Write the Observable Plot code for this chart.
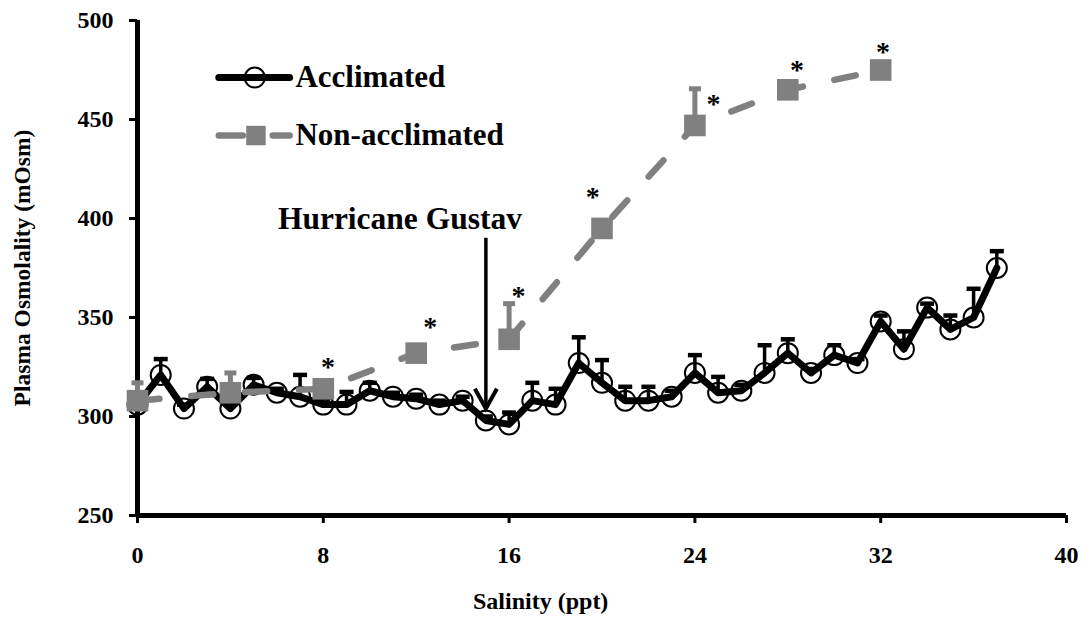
<!DOCTYPE html>
<html><head><meta charset="utf-8">
<script src="https://cdn.jsdelivr.net/npm/d3@7"></script>
<script src="https://cdn.jsdelivr.net/npm/@observablehq/plot@0.6"></script>
<style>html,body{margin:0;padding:0;background:#fff;overflow:hidden}</style>
</head><body><div id="chart"></div>
<script>
// ---- data ----
const acclX    = [0,1,2,3,4,5,6,7,8,9,10,11,12,13,14,15,16,17,18,19,20,21,22,23,24,25,26,27,28,29,30,31,32,33,34,35,36,37];
const acclMean = [306,321,304,315,304,316,312,310,306,306,313,310,309,306,308,298,296,308,306,327,317,308,308,310,322,312,313,322,332,322,331,327,348,334,355,344,350,375];
const acclErr  = [2,8,2,4,2,3.5,2,11,3,6.4,4,2,2,2,2,2,6,9,8,13,11.5,7,7,3,9,8,3,14,7,2,5,2,3,9,2,7,14.5,8.5];

const nonX    = [0,4,8,12,16,20,24,28,32];
const nonMean = [308,312,314,332,339,395,447,465,475];
const nonErr  = [9,10,4,3,18,3,18.5,0,0];

const starX = [8.2,12.6,16.4,19.6,24.8,28.4,32.1];
const starY = [325,345,361,411,458,475,484];

const xTicks = [0,8,16,24,32,40];
const yTicks = [250,300,350,400,450,500];

const seriesNames = ["Acclimated","Non-acclimated"];
const annotationText = "Hurricane Gustav";
const arrowAt = {x: 15, from: 390, to: 304};
const annotationPos = {x: 11.3, y: 400};
const legendPos = {x0: 3.5, x1: 6.55, xm: 5.05, xt: 6.8, y: [471.2, 441.9]};

const accl = acclX.map((x,i)=>({x, y: acclMean[i], top: acclMean[i]+acclErr[i]}));
const non  = nonX.map((x,i)=>({x, y: nonMean[i], top: nonMean[i]+nonErr[i]}));
const stars = starX.map((x,i)=>({x, y: starY[i]}));

const cap = {draw(ctx, size){ const r = Math.sqrt(size/Math.PI); ctx.moveTo(-r,0); ctx.lineTo(r,0); }};
const vHead = {draw(ctx, size){ const r = Math.sqrt(size/Math.PI); ctx.moveTo(-r,-1.8*r); ctx.lineTo(0,0); ctx.lineTo(r,-1.8*r); }};

const GRAY = "#808080";
const FONT = "Liberation Serif, Times New Roman, serif";

const plot = Plot.plot({
  width: 1089, height: 634,
  marginTop: 20, marginRight: 23, marginBottom: 119, marginLeft: 137,
  style: {fontFamily: FONT, fontWeight: "bold", color: "#000", background: "#fff"},
  x: {domain: [0,40]},
  y: {domain: [250,500]},
  marks: [
    Plot.axisX({ticks: xTicks, tickSize: 8, tickPadding: 22, fontSize: 24, fontWeight: "bold", label: null, strokeWidth: 3}),
    Plot.axisY({ticks: yTicks, tickSize: 8, tickPadding: 16, fontSize: 24, fontWeight: "bold", label: null, strokeWidth: 3}),
    Plot.ruleY([250], {stroke: "#000", strokeWidth: 5}),
    Plot.ruleX([0], {stroke: "#000", strokeWidth: 5}),
    // acclimated
    Plot.ruleX(accl, {x: "x", y1: "y", y2: "top", stroke: "#000", strokeWidth: 3.5}),
    Plot.dot(accl, {x: "x", y: "top", symbol: cap, r: 7, stroke: "#000", fill: "none", strokeWidth: 4.5}),
    Plot.line(accl, {x: "x", y: "y", stroke: "#000", strokeWidth: 7, strokeLinejoin: "round", strokeLinecap: "round"}),
    Plot.dot(accl, {x: "x", y: "y", r: 10, stroke: "#000", fill: "none", strokeWidth: 2}),
    // non-acclimated
    Plot.ruleX(non.filter(d=>d.top>d.y), {x: "x", y1: "y", y2: "top", stroke: GRAY, strokeWidth: 5}),
    Plot.dot(non.filter(d=>d.top>d.y), {x: "x", y: "top", symbol: cap, r: 6, stroke: GRAY, fill: "none", strokeWidth: 5}),
    Plot.line(non, {x: "x", y: "y", stroke: GRAY, strokeWidth: 6.5, strokeDasharray: "22,32", strokeLinecap: "round"}),
    Plot.dot(non, {x: "x", y: "y", symbol: "square", r: 12.2, fill: GRAY, stroke: "none"}),
    Plot.text(stars, {x: "x", y: "y", text: () => "*", fontSize: 28, fontWeight: "bold", fill: "#000"}),
    // annotation arrow
    Plot.ruleX([arrowAt], {x: "x", y1: "from", y2: "to", stroke: "#000", strokeWidth: 3.5}),
    Plot.dot([arrowAt], {x: "x", y: "to", symbol: vHead, r: 11, stroke: "#000", fill: "none", strokeWidth: 4, strokeLinejoin: "miter"}),
    Plot.text([annotationText], {x: annotationPos.x, y: annotationPos.y, text: d=>d, fontSize: 31.5, fontWeight: "bold", fill: "#000"}),
    // legend
    Plot.line([{x: legendPos.x0, y: legendPos.y[0]},{x: legendPos.x1, y: legendPos.y[0]}], {x: "x", y: "y", stroke: "#000", strokeWidth: 7, strokeLinecap: "round"}),
    Plot.dot([{x: legendPos.xm, y: legendPos.y[0]}], {x: "x", y: "y", r: 10, stroke: "#000", fill: "none", strokeWidth: 2}),
    Plot.line([{x: legendPos.x0, y: legendPos.y[1]},{x: legendPos.x1, y: legendPos.y[1]}], {x: "x", y: "y", stroke: GRAY, strokeWidth: 6.5, strokeDasharray: "24,30", strokeLinecap: "round"}),
    Plot.dot([{x: legendPos.xm + 0.05, y: legendPos.y[1]}], {x: "x", y: "y", symbol: "square", r: 11, fill: GRAY}),
    Plot.text(seriesNames.map((t,i)=>({t, y: legendPos.y[i]})), {x: legendPos.xt, y: "y", text: "t", textAnchor: "start", fontSize: 31, fontWeight: "bold", fill: "#000"}),
    // axis titles
    Plot.text(["Plasma Osmolality (mOsm)"], {frameAnchor: "left", textAnchor: "middle", dx: -115, rotate: -90, text: d=>d, fontSize: 23.5, fontWeight: "bold", fill: "#000"}),
    Plot.text(["Salinity (ppt)"], {frameAnchor: "bottom", x: 17.36, dy: 93, text: d=>d, fontSize: 24, fontWeight: "bold", fill: "#000"})
  ]
});
document.getElementById("chart").appendChild(plot);
</script>
</body></html>
